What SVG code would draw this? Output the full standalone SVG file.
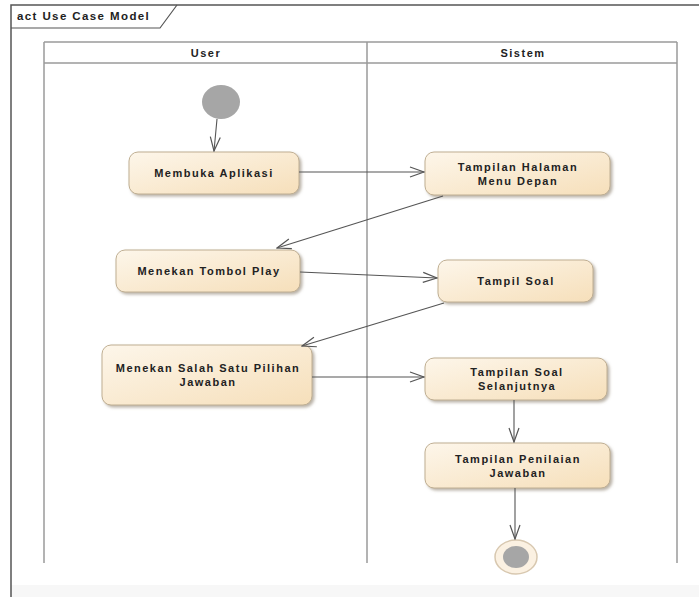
<svg xmlns="http://www.w3.org/2000/svg" width="699" height="597" viewBox="0 0 699 597">
<defs>
<linearGradient id="g" x1="0" y1="0" x2="1" y2="1">
<stop offset="0" stop-color="#fdf6ea"/>
<stop offset="1" stop-color="#f6dfba"/>
</linearGradient>
<filter id="sh" x="-10%" y="-20%" width="130%" height="150%">
<feDropShadow dx="2" dy="2" stdDeviation="1.5" flood-color="#8a7e6c" flood-opacity="0.6"/>
</filter>
<marker id="arr" viewBox="0 0 16 12" refX="15" refY="6" markerWidth="16" markerHeight="12" markerUnits="userSpaceOnUse" orient="auto">
<path d="M1,1 L15,6 L1,11" fill="none" stroke="#555" stroke-width="1.2"/>
</marker>
</defs>
<style>
.node rect{fill:url(#g);stroke:#bfae92;stroke-width:1;filter:url(#sh)}
.lbl{font-family:"Liberation Sans",Arial,sans-serif;font-size:11px;font-weight:bold;fill:#222;text-anchor:middle;letter-spacing:1.5px}
.lane{fill:none;stroke:#9a9a9a;stroke-width:1.5}
.conn line{stroke:#555;stroke-width:1.1;marker-end:url(#arr)}
</style>
<rect x="0" y="0" width="699" height="597" fill="#ffffff"/>
<rect x="11" y="585" width="688" height="12" fill="#f7f7f7"/>
<g id="frame">
<path d="M11,597 L11,5 L699,5" fill="none" stroke="#555" stroke-width="1.5"/>
<path d="M11,28 L160,28 L177,5" fill="none" stroke="#555" stroke-width="1.2"/>
<text x="17" y="20" font-family="Liberation Sans,Arial,sans-serif" font-size="11.5" font-weight="bold" fill="#222" letter-spacing="1.4">act Use Case Model</text>
</g>
<g id="lanes">
<line class="lane" x1="44" y1="42" x2="677" y2="42"/>
<line class="lane" x1="44" y1="63" x2="677" y2="63"/>
<line class="lane" x1="44" y1="42" x2="44" y2="563"/>
<line class="lane" x1="367" y1="42" x2="367" y2="563"/>
<line class="lane" x1="677" y1="42" x2="677" y2="563"/>
<text class="lbl" x="206" y="57">User</text>
<text class="lbl" x="523" y="57">Sistem</text>
</g>
<g id="start"><ellipse cx="221" cy="102" rx="19" ry="17" fill="#a6a6a6"/></g>
<g id="n1" class="node"><rect x="129" y="152" width="170" height="42" rx="9"/><text class="lbl" x="214" y="177">Membuka Aplikasi</text></g>
<g id="n2" class="node"><rect x="425" y="152" width="185" height="43" rx="9"/><text class="lbl" x="518" y="171">Tampilan Halaman</text><text class="lbl" x="518" y="185">Menu Depan</text></g>
<g id="n3" class="node"><rect x="116" y="250" width="184" height="42" rx="9"/><text class="lbl" x="209" y="275">Menekan Tombol Play</text></g>
<g id="n4" class="node"><rect x="438" y="260" width="155" height="42" rx="9"/><text class="lbl" x="516" y="285">Tampil Soal</text></g>
<g id="n5" class="node"><rect x="102" y="345" width="210" height="60" rx="9"/><text class="lbl" x="208" y="372">Menekan Salah Satu Pilihan</text><text class="lbl" x="208" y="386">Jawaban</text></g>
<g id="n6" class="node"><rect x="425" y="358" width="182" height="42" rx="9"/><text class="lbl" x="517" y="376">Tampilan Soal</text><text class="lbl" x="517" y="390">Selanjutnya</text></g>
<g id="n7" class="node"><rect x="425" y="443" width="185" height="45" rx="9"/><text class="lbl" x="518" y="463">Tampilan Penilaian</text><text class="lbl" x="518" y="477">Jawaban</text></g>
<g id="end">
<ellipse cx="516" cy="557" rx="21" ry="17" fill="#fbf1e2" stroke="#d8c8b0" stroke-width="1.5"/>
<ellipse cx="516" cy="557" rx="13" ry="11" fill="#a6a6a6"/>
</g>
<g id="connectors" class="conn">
<line x1="217" y1="119" x2="214" y2="151"/>
<line x1="299" y1="172" x2="424" y2="172"/>
<line x1="443" y1="196" x2="277" y2="248"/>
<line x1="300" y1="272" x2="437" y2="278"/>
<line x1="444" y1="303" x2="302" y2="346"/>
<line x1="312" y1="377" x2="424" y2="377"/>
<line x1="514" y1="400" x2="514" y2="442"/>
<line x1="515" y1="488" x2="515" y2="539"/>
</g>
</svg>
